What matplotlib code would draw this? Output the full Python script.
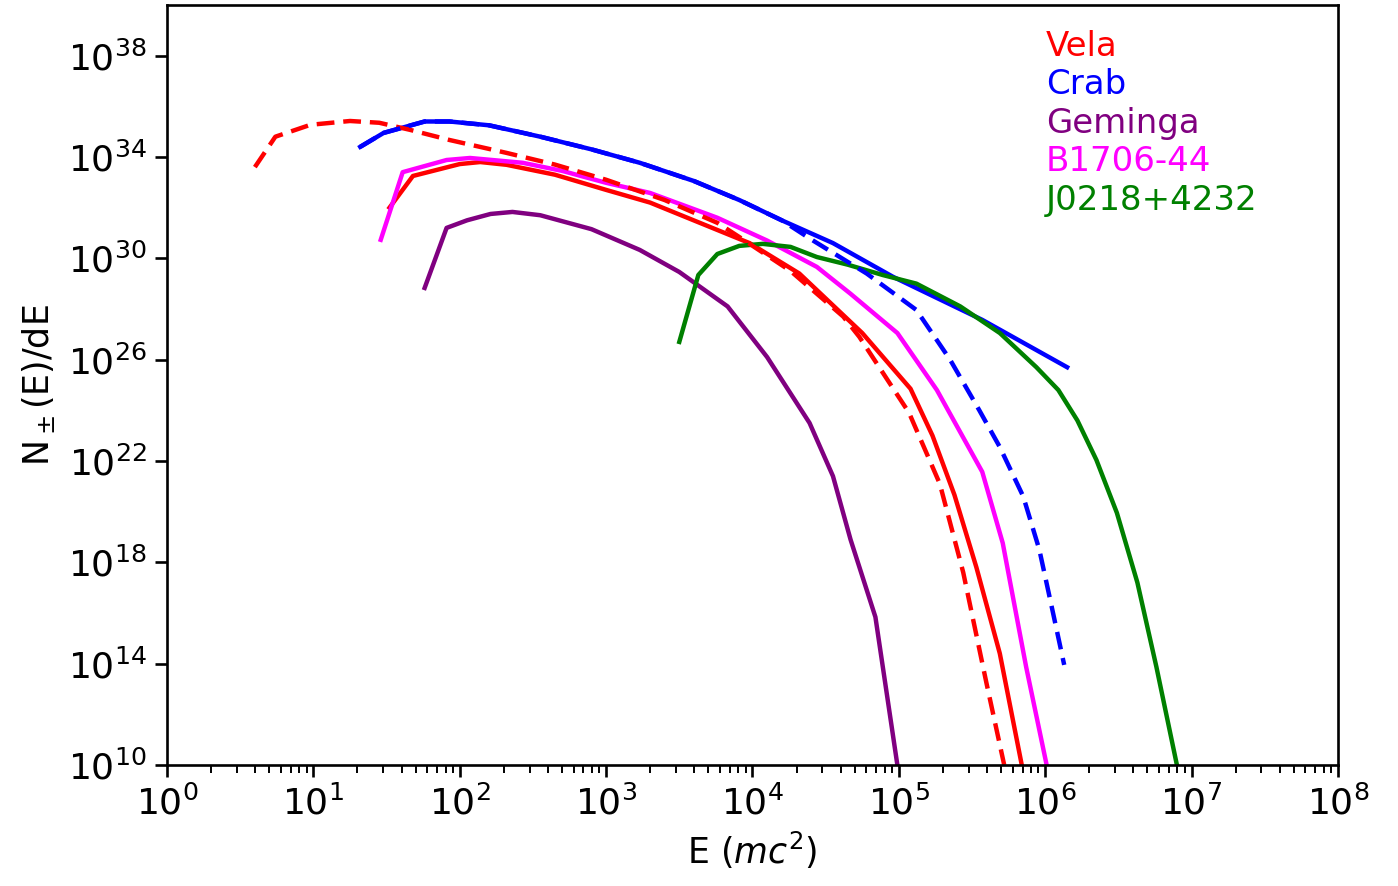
import numpy as np
import matplotlib
matplotlib.use("Agg")
import matplotlib.pyplot as plt
from matplotlib.ticker import LogLocator, NullLocator, LogFormatterMathtext

# log10(E / mc^2) and log10(dN/dE)
vela_logE = [1.52, 1.68, 2.00, 2.14, 2.32, 2.65, 3.00, 3.30, 3.98, 4.32, 4.75, 5.08, 5.23, 5.38, 5.53, 5.69, 5.84]
vela_logN = [32.0, 33.25, 33.72, 33.80, 33.69, 33.3, 32.70, 32.2, 30.6, 29.4, 27.05, 24.85, 23.0, 20.66, 17.8, 14.4, 10.0]

vela2_logE = [0.60, 0.74, 0.98, 1.25, 1.45, 1.66, 1.93, 2.32, 2.65, 3.00, 3.40, 3.76, 3.91, 4.26, 4.62, 4.73, 5.07, 5.28, 5.44, 5.60, 5.72]
vela2_logN = [33.6, 34.8, 35.27, 35.42, 35.35, 35.07, 34.67, 34.16, 33.7, 33.1, 32.3, 31.4, 30.84, 29.5, 27.7, 26.9, 23.9, 21.1, 17.6, 13.2, 10.0]

crab_logE = [1.32, 1.48, 1.76, 1.93, 2.20, 2.55, 2.90, 3.23, 3.60, 3.91, 4.20, 4.55, 4.96, 5.57, 6.15]
crab_logN = [34.4, 34.95, 35.4, 35.4, 35.25, 34.8, 34.3, 33.77, 33.05, 32.3, 31.5, 30.6, 29.27, 27.57, 25.7]

crab2_logE = [1.32, 1.48, 1.76, 1.93, 2.20, 2.55, 2.90, 3.23, 3.60, 3.91, 4.20, 4.40, 4.78, 5.12, 5.35, 5.55, 5.69, 5.85, 5.96, 6.05, 6.13]
crab2_logN = [34.4, 34.95, 35.4, 35.4, 35.25, 34.8, 34.3, 33.77, 33.05, 32.3, 31.5, 30.75, 29.4, 27.96, 26.0, 24.0, 22.55, 20.6, 18.5, 16.1, 13.95]

gem_logE = [1.76, 1.91, 2.05, 2.21, 2.36, 2.55, 2.90, 3.23, 3.50, 3.83, 4.10, 4.39, 4.55, 4.67, 4.84, 4.99]
gem_logN = [28.83, 31.2, 31.5, 31.75, 31.83, 31.7, 31.15, 30.33, 29.46, 28.1, 26.1, 23.5, 21.4, 18.9, 15.84, 10.0]

b17_logE = [1.46, 1.61, 1.91, 2.07, 2.43, 2.70, 3.00, 3.30, 3.76, 4.10, 4.44, 4.67, 4.99, 5.26, 5.57, 5.71, 5.87, 6.01]
b17_logN = [30.73, 33.4, 33.88, 33.96, 33.77, 33.45, 32.98, 32.58, 31.6, 30.7, 29.66, 28.6, 27.05, 24.8, 21.57, 18.76, 13.87, 10.0]

j02_logE = [3.50, 3.63, 3.76, 3.91, 4.07, 4.26, 4.44, 4.65, 4.89, 5.12, 5.42, 5.69, 5.94, 6.09, 6.22, 6.35, 6.49, 6.63, 6.76, 6.90]
j02_logN = [26.7, 29.34, 30.17, 30.49, 30.57, 30.45, 30.05, 29.75, 29.34, 29.0, 28.1, 27.05, 25.7, 24.8, 23.6, 22.04, 19.95, 17.2, 13.87, 10.0]

labels = ["Vela", "Crab", "Geminga", "B1706-44", "J0218+4232"]
colors = ["red", "blue", "purple", "magenta", "green"]

fig = plt.figure(figsize=(13.98, 8.86), dpi=100)
ax = fig.add_axes([0.1195, 0.1366, 0.8375, 0.8578])

def p(x, y):
    return 10.0 ** np.array(x), 10.0 ** np.array(y)

lw = 3.2
ax.plot(*p(vela_logE, vela_logN), color=colors[0], lw=lw, label=labels[0])
ax.plot(*p(crab_logE, crab_logN), color=colors[1], lw=lw, label=labels[1])
ax.plot(*p(gem_logE, gem_logN), color=colors[2], lw=lw, label=labels[2])
ax.plot(*p(b17_logE, b17_logN), color=colors[3], lw=lw, label=labels[3])
ax.plot(*p(j02_logE, j02_logN), color=colors[4], lw=lw, label=labels[4])
ax.plot(*p(vela2_logE, vela2_logN), color=colors[0], lw=lw, ls="--", dashes=(4, 2))
ax.plot(*p(crab2_logE, crab2_logN), color=colors[1], lw=lw, ls="--", dashes=(4, 2))

ax.set_xscale("log")
ax.set_yscale("log")
ax.set_xlim(1, 1e8)
ax.set_ylim(1e10, 1e40)
ax.set_yticks([10.0 ** k for k in range(10, 40, 4)])
ax.yaxis.set_major_formatter(LogFormatterMathtext())
ax.yaxis.set_minor_locator(NullLocator())
ax.xaxis.set_major_locator(LogLocator(base=10, numticks=20))
ax.xaxis.set_minor_locator(LogLocator(base=10, subs=np.arange(2, 10), numticks=20))

for s in ax.spines.values():
    s.set_linewidth(1.9)
ax.tick_params(which="major", length=8.4, width=1.9, labelsize=26, pad=6)
ax.tick_params(which="minor", length=5.5, width=1.4)

ax.set_xlabel(r"E ($mc^2$)", fontsize=25, labelpad=6)
ax.set_ylabel(r"N$_\pm$(E)/dE", fontsize=25, labelpad=8)

leg = ax.legend(loc="upper right", bbox_to_anchor=(0.943, 0.985), frameon=False,
                handlelength=0, handletextpad=0, fontsize=24.5, labelspacing=0.16,
                labelcolor="linecolor", borderaxespad=0)
for h in leg.legend_handles:
    h.set_visible(False)
fig.savefig("out.png", dpi=100)
